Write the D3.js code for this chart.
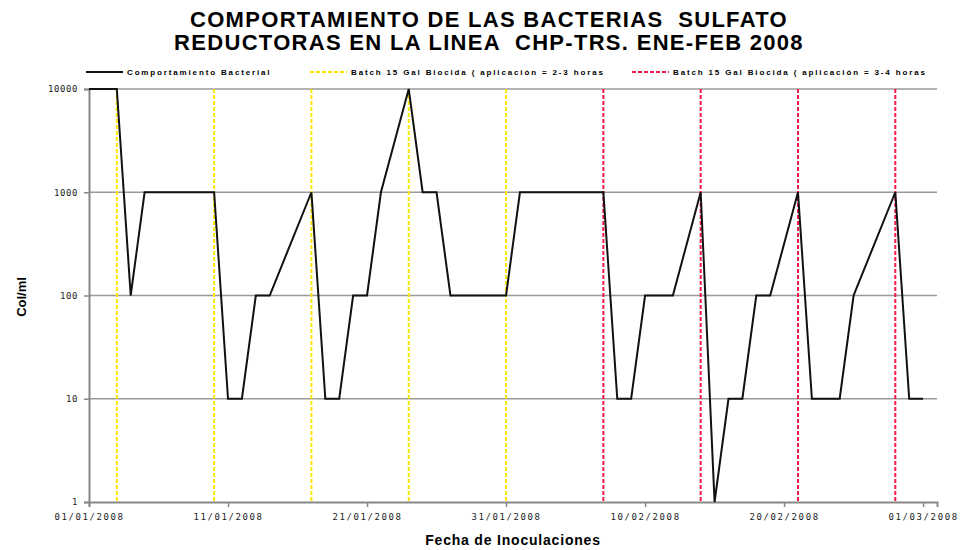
<!DOCTYPE html>
<html>
<head>
<meta charset="utf-8">
<script src="https://cdn.jsdelivr.net/npm/d3@7"></script>
<style>
  body { margin: 0; background: #fff; }
  text { font-family: "Liberation Sans", Arial, sans-serif; }
  .tick-lbl { font-family: "DejaVu Sans Mono", monospace; font-size: 9px; letter-spacing: 1.6px; fill: #222; }
</style>
</head>
<body>
<svg id="chart"></svg>
<script>
// fechas de muestreo y conteo bacteriano (Col/ml)
const fechas = ['2008-01-01', '2008-01-03', '2008-01-04', '2008-01-05', '2008-01-10', '2008-01-11',
  '2008-01-12', '2008-01-13', '2008-01-14', '2008-01-17', '2008-01-18', '2008-01-19', '2008-01-20',
  '2008-01-21', '2008-01-22', '2008-01-24', '2008-01-25', '2008-01-26', '2008-01-27', '2008-01-31',
  '2008-02-01', '2008-02-07', '2008-02-08', '2008-02-09', '2008-02-10', '2008-02-12', '2008-02-14',
  '2008-02-15', '2008-02-16', '2008-02-17', '2008-02-18', '2008-02-19', '2008-02-21', '2008-02-22',
  '2008-02-24', '2008-02-25', '2008-02-28', '2008-02-29', '2008-03-01'];
const colMl = [10000, 10000, 100, 1000, 1000, 10, 10, 100, 100, 1000, 10, 10, 100, 100, 1000, 10000,
  1000, 1000, 100, 100, 1000, 1000, 10, 10, 100, 100, 1000, 1, 10, 10, 100, 100, 1000, 10, 10, 100,
  1000, 10, 10];

// aplicaciones de biocida
const batch23 = ['2008-01-03', '2008-01-10', '2008-01-17', '2008-01-24', '2008-01-31'];
const batch34 = ['2008-02-07', '2008-02-14', '2008-02-21', '2008-02-28'];

const xTicks = ['2008-01-01', '2008-01-11', '2008-01-21', '2008-01-31', '2008-02-10', '2008-02-20', '2008-03-01'];
const yTicks = [1, 10, 100, 1000, 10000];

const titulo = ['COMPORTAMIENTO DE LAS BACTERIAS  SULFATO', 'REDUCTORAS EN LA LINEA  CHP-TRS. ENE-FEB 2008'];
const leyenda = ['Comportamiento Bacterial',
  'Batch 15 Gal Biocida ( aplicación = 2-3 horas',
  'Batch 15 Gal Biocida ( aplicación = 3-4 horas'];

const width = 965;
const height = 550;
const parse = d3.utcParse('%Y-%m-%d');
const fmt = d3.utcFormat('%d/%m/%Y');

const svg = d3.select('#chart').attr('width', width).attr('height', height);

const x = d3.scaleUtc()
  .domain([parse('2008-01-01'), parse('2008-03-02')])
  .range([89, 937]);
const y = d3.scaleLog().domain([1, 10000]).range([502, 89]);

// titulo
svg.append('g').selectAll('text')
  .data(titulo)
  .enter().append('text')
    .attr('x', 489)
    .attr('y', (d, i) => 27 + i * 23)
    .attr('text-anchor', 'middle')
    .style('font-size', '22px')
    .style('font-weight', 'bold')
    .style('letter-spacing', '1.3px')
    .style('white-space', 'pre')
    .text(d => d);

// grid horizontal
svg.append('g').selectAll('line')
  .data(yTicks.slice(1))
  .enter().append('line')
    .attr('x1', 89).attr('x2', 937)
    .attr('y1', d => y(d)).attr('y2', d => y(d))
    .attr('stroke', '#999').attr('stroke-width', 1.5);

// ejes
const yAxis = svg.append('g')
  .attr('transform', 'translate(89,0)')
  .call(d3.axisLeft(y).tickValues(yTicks).tickSize(5).tickFormat(d3.format('d')));
const xAxis = svg.append('g')
  .attr('transform', 'translate(0,502)')
  .call(d3.axisBottom(x).tickValues(xTicks.map(parse)).tickSize(5).tickFormat(fmt));

[yAxis, xAxis].forEach(a => {
  a.select('.domain').attr('stroke', '#888').attr('stroke-width', 2);
  a.selectAll('.tick line').attr('stroke', '#888').attr('stroke-width', 1.5);
  a.selectAll('.tick text').attr('class', 'tick-lbl');
});
yAxis.selectAll('.tick text').attr('x', -11).style('letter-spacing', '0.6px');
xAxis.selectAll('.tick text').attr('y', 12);

// lineas de aplicacion
const vlines = svg.append('g');
vlines.selectAll('.b23')
  .data(batch23)
  .enter().append('line')
    .attr('class', 'b23')
    .attr('x1', d => x(parse(d))).attr('x2', d => x(parse(d)))
    .attr('y1', y(10000)).attr('y2', y(1))
    .attr('stroke', '#ffe600').attr('stroke-width', 2)
    .attr('stroke-dasharray', '4,2');
vlines.selectAll('.b34')
  .data(batch34)
  .enter().append('line')
    .attr('class', 'b34')
    .attr('x1', d => x(parse(d))).attr('x2', d => x(parse(d)))
    .attr('y1', y(10000)).attr('y2', y(1))
    .attr('stroke', '#f5174a').attr('stroke-width', 2)
    .attr('stroke-dasharray', '4,2');

// comportamiento bacterial
const data = fechas.map((f, i) => ({ date: parse(f), v: colMl[i] }));
svg.append('path')
  .datum(data)
  .attr('fill', 'none')
  .attr('stroke', '#111')
  .attr('stroke-width', 2)
  .attr('d', d3.line().x(d => x(d.date)).y(d => y(d.v)));

// leyenda
const legItems = [
  { x: 86, color: '#111', dash: null },
  { x: 310, color: '#ffe600', dash: '4,2' },
  { x: 632, color: '#f5174a', dash: '4,2' }
];
const leg = svg.append('g').selectAll('g')
  .data(legItems)
  .enter().append('g')
    .attr('transform', d => `translate(${d.x},72)`);
leg.append('line')
  .attr('x1', 0).attr('x2', 37)
  .attr('stroke', d => d.color).attr('stroke-width', 2)
  .attr('stroke-dasharray', d => d.dash);
leg.append('text')
  .attr('x', 41).attr('dy', '0.35em')
  .style('font-size', '8px')
  .style('font-weight', 'bold')
  .style('letter-spacing', '1.85px')
  .text((d, i) => leyenda[i]);

// titulos de ejes
svg.append('text')
  .attr('x', 513).attr('y', 545)
  .attr('text-anchor', 'middle')
  .style('font-size', '14px').style('font-weight', 'bold')
  .style('letter-spacing', '0.8px')
  .text('Fecha de Inoculaciones');
svg.append('text')
  .attr('transform', 'translate(26,297) rotate(-90)')
  .attr('text-anchor', 'middle')
  .style('font-size', '13px').style('font-weight', 'bold')
  .text('Col/ml');
</script>
</body>
</html>
